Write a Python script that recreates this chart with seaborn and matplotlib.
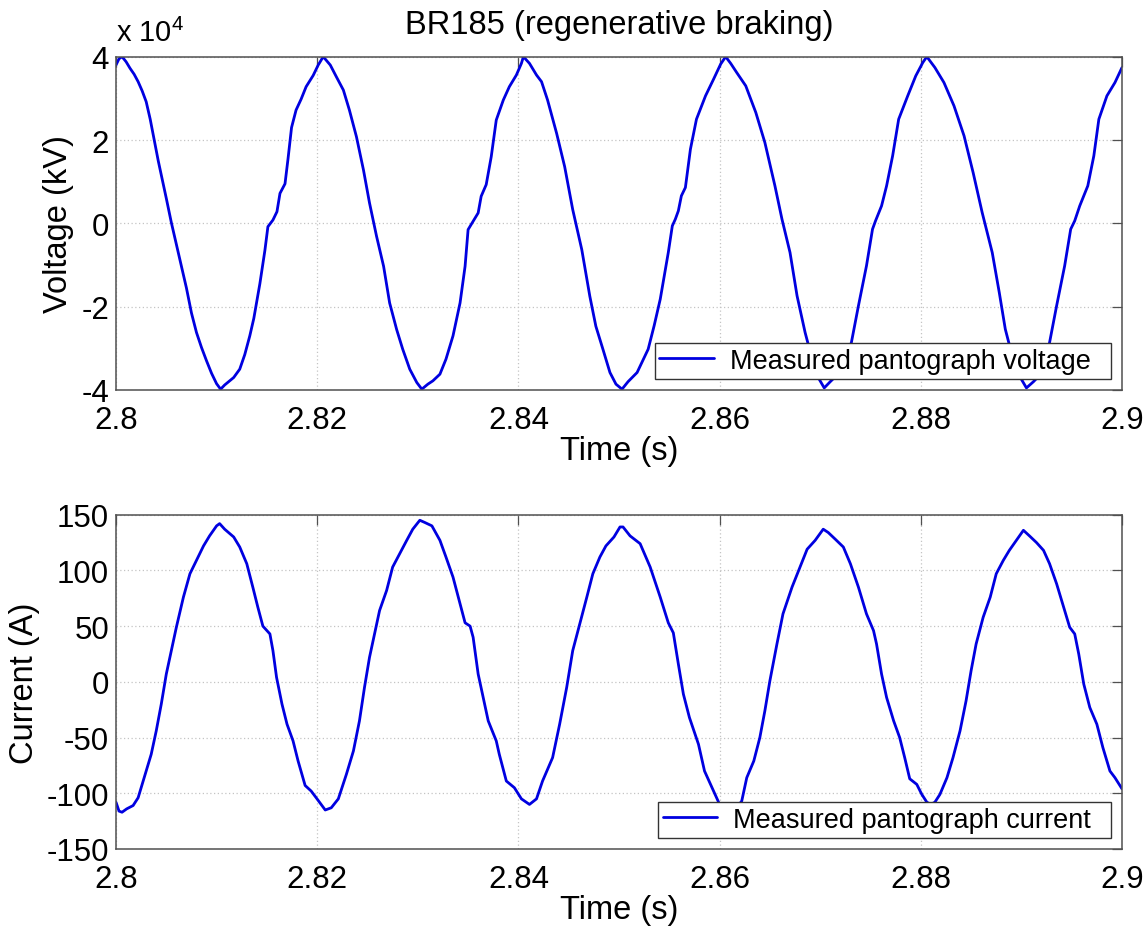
import numpy as np
import pandas as pd
import matplotlib
matplotlib.use("Agg")
import matplotlib.pyplot as plt
from matplotlib.legend_handler import HandlerLine2D
import seaborn as sns

# ---------------- data ----------------
# time offsets in ms after t0 = 2.8 s ; voltage in units of 1e4 V
t0 = 2.8
volt_ms = [0.0, 0.3, 0.6, 1.0, 1.4, 1.8, 2.2, 2.6, 3.0, 3.4, 3.8, 4.2, 4.6, 5.0, 5.5, 6.0, 6.5, 7.0, 7.5, 8.0,
           8.5, 9.0, 9.5, 10.0, 10.4,
           10.8, 11.2, 11.7, 12.3, 12.8, 13.3, 13.7, 14.3, 14.8, 15.1, 15.6, 16.0, 16.3, 16.8, 17.1, 17.45,
           17.9, 18.4, 18.9, 19.6, 20.1, 20.6,
           21.3, 21.9, 22.6, 23.2, 23.9, 24.6, 25.2, 25.9, 26.6, 27.2, 27.9, 28.5, 29.2, 29.9, 30.4,
           31.0, 31.5, 32.2, 32.8, 33.5, 34.2, 34.7, 35.0, 35.5, 36.0, 36.3, 36.8, 37.3, 37.8, 38.5, 39.1,
           39.8, 40.3, 40.5,
           41.1, 41.8, 42.3, 42.9, 43.8, 44.6, 45.4, 46.3, 47.1, 47.7, 48.4, 49.1, 49.7, 50.3,
           50.9, 51.8, 52.9, 53.5, 54.1, 54.9, 55.3, 55.6, 55.9, 56.2, 56.6, 57.1, 57.7, 58.6, 59.4, 60.1, 60.6,
           61.1, 61.7, 62.6, 63.6, 64.5, 65.5, 66.2, 67.0, 67.7, 68.5, 69.2, 69.8, 70.4,
           71.0, 71.6, 72.4, 73.1, 73.8, 74.6, 75.2, 75.5, 76.1, 76.6, 77.2, 77.8, 78.7, 79.5, 80.2, 80.6,
           81.4, 82.3, 83.3, 84.3, 85.2, 86.1, 87.1, 87.8, 88.4, 89.0, 89.7, 90.5,
           91.2, 92.0, 92.8, 93.5, 94.3, 94.9, 95.3, 95.8, 96.6, 97.2, 97.7, 98.5, 99.3, 100.0]
volt_1e4 = [3.80, 3.95, 4.00, 3.88, 3.72, 3.58, 3.40, 3.18, 2.92, 2.50, 2.00, 1.50, 1.05, 0.60, 0.02, -0.50,
            -1.02, -1.55, -2.15, -2.62, -2.98, -3.30, -3.60, -3.85, -3.98,
            -3.88, -3.80, -3.70, -3.50, -3.15, -2.70, -2.28, -1.45, -0.65, -0.08, 0.08, 0.28, 0.72, 0.95, 1.55,
            2.30, 2.72, 2.98, 3.28, 3.55, 3.80, 4.00,
            3.80, 3.52, 3.20, 2.72, 2.08, 1.28, 0.49, -0.31, -1.03, -1.91, -2.55, -3.02, -3.50, -3.82, -3.98,
            -3.86, -3.78, -3.62, -3.26, -2.70, -1.91, -1.03, -0.15, 0.05, 0.25, 0.65, 0.93, 1.60, 2.48, 2.96,
            3.28, 3.56, 3.84, 4.00,
            3.84, 3.56, 3.40, 2.96, 2.16, 1.36, 0.33, -0.63, -1.75, -2.47, -3.02, -3.58, -3.86, -3.98,
            -3.80, -3.58, -3.02, -2.45, -1.82, -0.70, -0.06, 0.10, 0.30, 0.66, 0.86, 1.78, 2.50, 3.06, 3.46,
            3.82, 4.00,
            3.84, 3.62, 3.30, 2.66, 1.94, 0.90, 0.10, -0.70, -1.74, -2.62, -3.26, -3.70, -3.95,
            -3.80, -3.66, -3.30, -2.86, -1.98, -1.02, -0.14, 0.06, 0.42, 0.90, 1.62, 2.50, 3.06, 3.54, 3.86,
            4.00,
            3.74, 3.38, 2.82, 2.10, 1.22, 0.26, -0.70, -1.66, -2.54, -3.10, -3.62, -3.95,
            -3.80, -3.60, -2.86, -1.98, -1.02, -0.14, 0.06, 0.42, 0.90, 1.62, 2.50, 3.06, 3.38, 3.74]

# current in A
curr_ms = [0.0, 0.3, 0.6, 1.06, 1.7, 2.2, 2.9, 3.5, 4.0, 4.5, 5.0, 5.5, 6.0, 6.7, 7.35, 8.0, 8.7, 9.3, 10.0,
           10.3, 10.8, 11.7, 12.3, 13.0, 13.6, 14.1, 14.6, 15.3, 15.6, 15.96, 16.5, 17.0, 17.6, 18.1, 18.8,
           19.4, 19.9, 20.8, 21.4, 22.1, 22.9, 23.6, 24.2, 24.7, 25.2, 25.7, 26.2, 26.9, 27.5, 28.2, 28.9,
           29.5, 30.2, 30.7, 31.4, 32.2, 32.8, 33.5, 34.2, 34.7, 35.2, 35.5, 36.0, 36.5, 37.0, 37.8, 38.1,
           38.8, 39.6, 40.3, 41.1, 41.8, 42.4, 43.4, 44.1, 44.8, 45.4, 46.1, 46.8, 47.4, 48.1, 48.7, 49.5,
           50.1, 50.4, 51.1, 52.1, 53.1, 54.1, 54.9, 55.4, 55.9, 56.4, 57.0, 57.9, 58.5, 59.0, 59.7, 60.2,
           61.0, 61.6, 62.2, 62.7, 63.4, 64.0, 64.5, 65.0, 65.7, 66.3, 67.2, 68.0, 68.7, 69.5, 70.3, 70.8,
           71.5, 72.3, 73.0, 73.8, 74.6, 75.3, 75.6, 76.1, 76.6, 77.3, 77.9, 78.4, 78.9, 79.6, 80.1, 80.6,
           81.0, 81.4, 81.9, 82.6, 83.2, 83.9, 84.5, 85.0, 85.5, 86.2, 86.9, 87.5, 88.2, 88.8, 89.5, 90.2,
           90.8, 91.5, 92.2, 92.8, 93.5, 94.2, 94.8, 95.3, 95.7, 96.2, 96.8, 97.5, 98.1, 98.8, 99.3, 100.0]
curr_a = [-108, -116, -117, -114, -111, -104, -83, -65, -44, -20, 7, 28, 49, 76, 97, 109, 122, 131, 140,
          142, 137, 130, 121, 106, 85, 67, 50, 43, 28, 4, -20, -38, -53, -71, -93,
          -98, -104, -115, -113, -105, -83, -62, -35, -5, 22, 43, 64, 82, 103, 115, 127,
          137, 145, 143, 140, 127, 112, 94, 70, 53, 50, 40, 7, -14, -35, -53, -65,
          -89, -95, -105, -110, -105, -89, -68, -38, -5, 28, 52, 76, 97, 112, 122, 130,
          139, 139, 131, 124, 103, 76, 53, 44, 16, -11, -32, -56, -80, -90, -104, -114,
          -118, -114, -107, -86, -71, -50, -26, 1, 34, 61, 85, 103, 119, 127, 137, 134,
          128, 121, 106, 85, 61, 46, 34, 7, -14, -35, -50, -68, -87, -92, -101, -108,
          -110, -108, -101, -86, -68, -44, -17, 10, 34, 58, 76, 97, 109, 118, 127, 136,
          131, 125, 118, 106, 88, 67, 49, 43, 25, -2, -23, -38, -59, -80, -86, -96]

x_ticks = [2.8, 2.82, 2.84, 2.86, 2.88, 2.9]
x_tick_labels = ["2.8", "2.82", "2.84", "2.86", "2.88", "2.9"]
v_ticks = [-4e4, -2e4, 0, 2e4, 4e4]
v_tick_labels = ["-4", "-2", "0", "2", "4"]
i_ticks = [-150, -100, -50, 0, 50, 100, 150]
i_tick_labels = ["-150", "-100", "-50", "0", "50", "100", "150"]

volt_df = pd.DataFrame({"Time": t0 + np.array(volt_ms) / 1000.0,
                        "Voltage": np.array(volt_1e4) * 1e4})
curr_df = pd.DataFrame({"Time": t0 + np.array(curr_ms) / 1000.0,
                        "Current": np.array(curr_a, dtype=float)})

# ---------------- style ----------------
sns.set_style("white")
plt.rcParams["font.family"] = ["Liberation Sans", "DejaVu Sans"]
plt.rcParams["axes.unicode_minus"] = False
plt.rcParams["mathtext.fontset"] = "custom"
plt.rcParams["mathtext.rm"] = "Liberation Sans"
plt.rcParams["mathtext.it"] = "Liberation Sans"
plt.rcParams["text.color"] = "black"
plt.rcParams["axes.labelcolor"] = "black"

W, H = 1146, 928
fig = plt.figure(figsize=(W / 100, H / 100), dpi=100)
fig.patch.set_facecolor("white")

line_color = "#0000e0"
spine_color = "#505050"
TICK_FS = 22.5
LABEL_FS = 23.5
LEG_FS = 19.5


class InsetLineHandler(HandlerLine2D):
    """Legend line handle drawn with a small left inset inside its handle box."""

    def create_artists(self, legend, orig_handle, xdescent, ydescent, width, height, fontsize, trans):
        artists = super().create_artists(legend, orig_handle, xdescent, ydescent, width, height,
                                          fontsize, trans)
        inset = 0.3 * fontsize
        for a in artists:
            xd = np.asarray(a.get_xdata(), dtype=float)
            if xd.size == 2:
                a.set_xdata([xd[0] + inset, xd[1]])
        return artists


def px_axes(left, top, right, bottom):
    return fig.add_axes([left / W, 1 - bottom / H, (right - left) / W, (bottom - top) / H])


ax1 = px_axes(116, 57.7, 1122, 391)
ax2 = px_axes(116, 515.7, 1122, 850)

sns.lineplot(data=volt_df, x="Time", y="Voltage", ax=ax1, color=line_color, linewidth=2.0,
             sort=False, estimator=None, label="Measured pantograph voltage  ")
sns.lineplot(data=curr_df, x="Time", y="Current", ax=ax2, color=line_color, linewidth=2.0,
             sort=False, estimator=None, label="Measured pantograph current  ")

for ax, yt, ytl, ylim, ylab in [(ax1, v_ticks, v_tick_labels, (-4e4, 4e4), "Voltage (kV)"),
                                 (ax2, i_ticks, i_tick_labels, (-150, 150), "Current (A)")]:
    ax.set_xlim(2.8, 2.9)
    ax.set_ylim(*ylim)
    ax.set_xticks(x_ticks)
    ax.set_xticklabels(x_tick_labels)
    ax.set_yticks(yt)
    ax.set_yticklabels(ytl)
    ax.grid(True, linestyle=(0, (1, 2)), color="#c4c4c4", linewidth=0.9)
    ax.set_axisbelow(True)
    for sp in ax.spines.values():
        sp.set_color(spine_color)
        sp.set_linewidth(1.1)
        sp.set_visible(True)
    ax.tick_params(direction="in", length=7, width=0.9, color=spine_color,
                   top=True, right=True, labelsize=TICK_FS, labelcolor="black")
    ax.tick_params(axis="x", pad=11)
    ax.tick_params(axis="y", pad=5)
    ax.set_xlabel("Time (s)", fontsize=LABEL_FS, labelpad=0)
    ax.set_ylabel(ylab, fontsize=LABEL_FS, labelpad=5)
    handles, labels = ax.get_legend_handles_labels()
    leg = ax.legend(handles, labels, loc="lower right", fontsize=LEG_FS, frameon=True, fancybox=False,
                    framealpha=1.0, edgecolor="#333333", borderpad=0.18, borderaxespad=0.42,
                    handlelength=2.0, handletextpad=0.6,
                    handler_map={handles[0]: InsetLineHandler()})
    leg.get_frame().set_linewidth(1.0)
    for h in leg.get_lines():
        h.set_linewidth(2.0)

ax1.set_title("BR185 (regenerative braking)", fontsize=23.5, pad=17)
ax1.text(0.0, 1.03, r"x 10$^{4}$", transform=ax1.transAxes, fontsize=21,
         ha="left", va="bottom")

fig.savefig("out.png", dpi=100, facecolor="white")
